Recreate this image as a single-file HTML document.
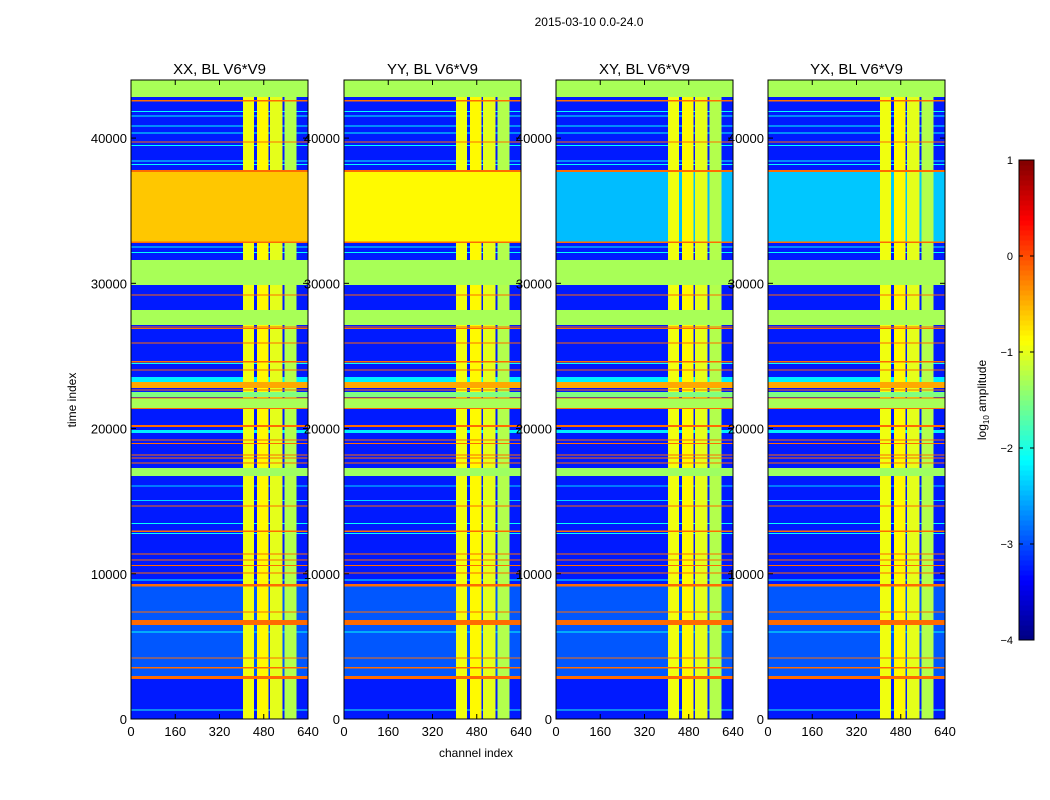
<!DOCTYPE html>
<html><head><meta charset="utf-8"><style>
html,body{margin:0;padding:0;background:#fff;}
svg{display:block;font-family:"Liberation Sans","DejaVu Sans",sans-serif;}
</style></head><body>
<svg id="fig" width="1050" height="800" viewBox="0 0 1050 800" xmlns="http://www.w3.org/2000/svg">
<rect width="1050" height="800" fill="#fff"/>
<text x="589" y="26" font-size="12" text-anchor="middle">2015-03-10 0.0-24.0</text>
<text x="476" y="757" font-size="12" text-anchor="middle">channel index</text>
<text transform="translate(76,400) rotate(-90)" font-size="12" text-anchor="middle">time index</text>
<g id="panels"></g>
<g id="cbar"></g>
</svg>
<script>
const panelTitles = ["XX, BL V6*V9","YY, BL V6*V9","XY, BL V6*V9","YX, BL V6*V9"];
const xTicks = [0,160,320,480,640];
const yTicks = [0,10000,20000,30000,40000];
const cbTicks = [-4,-3,-2,-1,0,1];
// background zones (time index)
const zoneStart = [0, 2960];
const zoneEnd = [44000, 9110];
const zoneLevel = [-3.25, -2.95];
// bright band per panel (log10 amplitude)
const bigStart = 32860, bigEnd = 37700;
const bigLevel = [-0.6, -0.85, -2.45, -2.4];
// RFI channel columns
const colStart = [405, 455, 503, 555];
const colEnd = [445, 497, 548, 599];
const colLevel = [-0.95, -0.85, -1.0, -1.25];
// lines / flagged rows: start, end, level, override flag
const lineStart = [42830,29880,27130,21400,22170,16730, 42530,39700,37650,32790,29150,26850,26960,25850,24560,23990,22790,22610,22060,21350,20100,19170,18920,18140,17930,17580,14620,12890,11320,10910,10530,10010,9110,7330,6470,4160,3490,2750,
  42950,41800,41500,40800,40300,39450,38400,38150,32450,32100,24450,23200,19690,13420,12750,9530,5950,580,15000,16000];
const lineEnd = [44000,31600,28160,22060,22510,17280, 42610,39780,37800,32870,29230,26920,27030,25930,24640,24070,23200,22690,22140,21430,20250,19240,18990,18220,18000,17660,14700,12970,11400,10990,10610,10090,9290,7410,6820,4240,3570,2960,
  43030,41870,41570,40870,40370,39520,38470,38220,32520,32170,24520,23540,19900,13500,12820,9610,6030,660,15070,16070];
const lineLevel = [-1.3,-1.3,-1.3,-1.3,-1.5,-1.35, -0.15,-0.15,-0.15,-0.15,-0.15,-0.15,-0.15,-0.15,-0.15,-0.15,-0.45,-0.15,-0.15,-0.15,-0.15,-0.15,-0.15,-0.15,-0.15,-0.15,-0.15,-0.15,-0.15,-0.15,-0.15,-0.15,-0.15,-0.15,-0.15,-0.15,-0.15,-0.15,
  -2.1,-2.1,-2.1,-2.1,-2.1,-2.1,-2.1,-2.1,-2.1,-2.1,-2.1,-2.2,-2.2,-2.1,-2.1,-2.1,-2.1,-2.0,-2.3,-2.3];
const lineFlag = [1,1,1,1,1,1, 1,1,1,1,1,1,1,1,1,1,1,1,1,1,1,1,1,1,1,1,1,1,1,1,1,1,1,1,1,1,1,1,
  0,0,0,0,0,0,0,0,0,0,0,0,0,0,0,0,0,0,0,0];

const NS="http://www.w3.org/2000/svg";
const panelX=[131,344,556,768], PW=177, PY0=80, PY1=719;
const TMAX=44000, CMAX=640;
function jet(x){const v=Math.max(0,Math.min(1,(x+4)/5));const c=t=>Math.round(255*Math.max(0,Math.min(1,1.5-Math.abs(4*v-t))));return `rgb(${c(3)},${c(2)},${c(1)})`;}
function mk(tag,attrs,parent){const e=document.createElementNS(NS,tag);for(const k in attrs)e.setAttribute(k,attrs[k]);parent.appendChild(e);return e;}
const segS=[],segE=[],segL=[];
(function(){let c=0;for(let i=0;i<colStart.length;i++){if(colStart[i]>c){segS.push(c);segE.push(colStart[i]);segL.push(-9);}segS.push(colStart[i]);segE.push(colEnd[i]);segL.push(colLevel[i]);c=colEnd[i];}if(c<CMAX){segS.push(c);segE.push(CMAX);segL.push(-9);}})();

const panels=document.getElementById('panels');
panelX.forEach((px,p)=>{
  const g=mk('g',{},panels);
  
  
  const xs=c=>px+c/CMAX*PW, ys=t=>PY1-t/TMAX*(PY1-PY0);
  const hm=mk('g',{'shape-rendering':'crispEdges'},g);
  
  
  function row(t0,t1,lev,flag){
    for(let s=0;s<segS.length;s++){
      const v=flag?lev:Math.max(lev,segL[s]);
      const y0=ys(t1),y1=ys(t0);
      const r=mk('rect',{x:xs(segS[s]).toFixed(2),y:y0.toFixed(2),width:(xs(segE[s])-xs(segS[s])).toFixed(2),height:Math.max(1,y1-y0).toFixed(2),fill:jet(v)},hm);
      
      
    }
  }
  for(let i=0;i<zoneStart.length;i++)row(zoneStart[i],zoneEnd[i],zoneLevel[i],0);
  row(bigStart,bigEnd,bigLevel[p],0);
  for(let i=0;i<lineStart.length;i++)if(!lineFlag[i])row(lineStart[i],lineEnd[i],lineLevel[i],0);
  for(let i=0;i<lineStart.length;i++)if(lineFlag[i])row(lineStart[i],lineEnd[i],lineLevel[i],1);
  const fr=mk('rect',{x:px,y:PY0,width:PW,height:PY1-PY0,fill:'none',stroke:'#000','stroke-width':1},g);
  
  
  const tt=mk('text',{x:px+PW/2,y:74,'font-size':15,'text-anchor':'middle'},g);
  tt.textContent=panelTitles[p];
  
  
  xTicks.forEach(c=>{const x=xs(c);
    mk('line',{x1:x,y1:PY1,x2:x,y2:PY1-5,stroke:'#000'},g);mk('line',{x1:x,y1:PY0,x2:x,y2:PY0+5,stroke:'#000'},g);
    const t=mk('text',{x:x,y:736,'font-size':13,'text-anchor':'middle'},g);t.textContent=c;
    
    });
  yTicks.forEach(v=>{const y=ys(v);
    mk('line',{x1:px,y1:y,x2:px+5,y2:y,stroke:'#000'},g);mk('line',{x1:px+PW,y1:y,x2:px+PW-5,y2:y,stroke:'#000'},g);
    const t=mk('text',{x:px-4,y:y+5,'font-size':13,'text-anchor':'end'},g);t.textContent=v;
    
    });
});
const cb=document.getElementById('cbar');
const CX=1019,CW=15,CY0=160,CY1=640;
const cys=v=>CY1-(v+4)/5*(CY1-CY0);
const NSW=96;
for(let i=0;i<NSW;i++){const v0=-4+i*5/NSW;const r=mk('rect',{x:CX,y:cys(v0+5/NSW).toFixed(2),width:CW,height:((CY1-CY0)/NSW+0.6).toFixed(2),fill:jet(v0+2.5/NSW),'shape-rendering':'crispEdges'},cb);
  
  }
mk('rect',{x:CX,y:CY0,width:CW,height:CY1-CY0,fill:'none',stroke:'#000'},cb);
cbTicks.forEach(v=>{const y=cys(v);
  mk('line',{x1:CX,y1:y,x2:CX+4,y2:y,stroke:'#000'},cb);mk('line',{x1:CX+CW,y1:y,x2:CX+CW-4,y2:y,stroke:'#000'},cb);
  const t=mk('text',{x:1013,y:y+4,'font-size':11,'text-anchor':'end'},cb);t.textContent=(v<0?'\u2212'+(-v):v);
  
  });
const cl=mk('text',{transform:'translate(986,400) rotate(-90)','font-size':12,'text-anchor':'middle'},cb);
cl.innerHTML='log<tspan font-size="8" dy="3">10</tspan><tspan dy="-3"> amplitude</tspan>';


</script>
</body></html>
